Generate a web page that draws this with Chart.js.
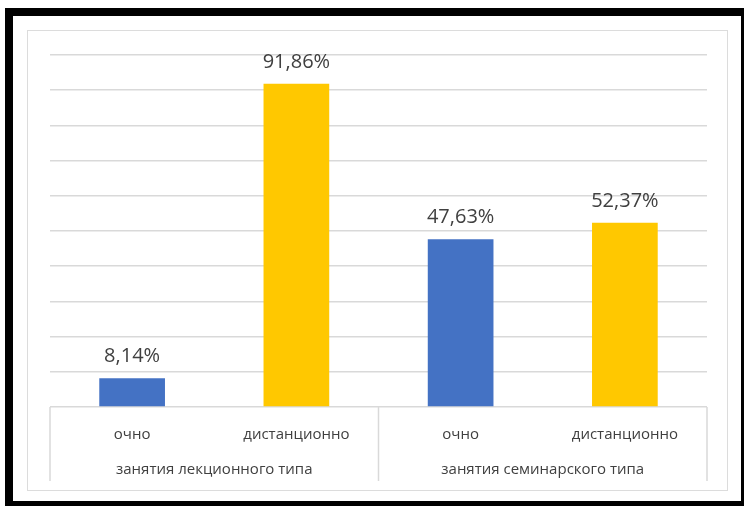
<!DOCTYPE html>
<html>
<head>
<meta charset="utf-8">
<script src="https://cdn.jsdelivr.net/npm/chart.js@4"></script>
<style>
  html, body { margin: 0; padding: 0; background: #fff; overflow: hidden; }
  #wrap { position: relative; width: 744px; height: 506px; }
  #frame { position: absolute; left: 5px; top: 8px; width: 728px; height: 485px; border: 8px solid #000; }
  #inner { position: absolute; left: 27px; top: 30px; width: 699px; height: 459px; border: 1px solid #dcdcdc; }
  canvas { position: absolute; left: 0; top: 0; }
</style>
</head>
<body>
<div id="wrap">
  <div id="frame"></div>
  <div id="inner"></div>
  <canvas id="chart" width="744" height="506"></canvas>
</div>
<script>
const categories = ['очно', 'дистанционно', 'очно', 'дистанционно'];
const groups = ['занятия лекционного типа', 'занятия семинарского типа'];
const values = [8.14, 91.86, 47.63, 52.37];
const barColors = ['#4472c4', '#ffc800', '#4472c4', '#ffc800'];

const textColor = '#404040';
const lineColor = '#d9d9d9';
const fontFamily = '"Open Sans", "Noto Sans", sans-serif';

// value labels above the bars and the two-level category axis
const labelsPlugin = {
  id: 'labelsPlugin',
  afterDatasetsDraw(chart) {
    const { ctx, chartArea } = chart;
    const x = chart.scales.x;
    const meta = chart.getDatasetMeta(0);

    ctx.save();
    ctx.fillStyle = textColor;
    ctx.textAlign = 'center';
    ctx.textBaseline = 'alphabetic';
    ctx.font = '20px ' + fontFamily;
    meta.data.forEach((bar, i) => {
      const txt = values[i].toFixed(2).replace('.', ',') + '%';
      ctx.fillText(txt, bar.x, bar.y - 16);
    });

    // separators of the grouped axis
    ctx.strokeStyle = lineColor;
    ctx.lineWidth = 1.5;
    const bottom = chartArea.bottom;
    const seps = [chartArea.left, x.getPixelForValue(1.5), chartArea.right];
    seps.forEach((px) => {
      ctx.beginPath();
      ctx.moveTo(px, bottom);
      ctx.lineTo(px, bottom + 74);
      ctx.stroke();
    });

    ctx.textBaseline = 'middle';
    ctx.font = '15px ' + fontFamily;
    categories.forEach((c, i) => {
      ctx.fillText(c, x.getPixelForValue(i), bottom + 28);
    });
    groups.forEach((g, i) => {
      const cx = (x.getPixelForValue(i * 2) + x.getPixelForValue(i * 2 + 1)) / 2;
      ctx.fillText(g, cx, bottom + 63);
    });
    ctx.restore();
  },
};

new Chart(document.getElementById('chart'), {
  type: 'bar',
  data: {
    labels: categories,
    datasets: [{
      data: values,
      backgroundColor: barColors,
      borderWidth: 0,
      categoryPercentage: 1,
      barPercentage: 0.4,
    }],
  },
  options: {
    responsive: false,
    animation: false,
    layout: {
      padding: { left: 50, right: 37, top: 55, bottom: 99 },
    },
    plugins: {
      legend: { display: false },
      tooltip: { enabled: false },
    },
    scales: {
      x: {
        display: false,
      },
      y: {
        min: 0,
        max: 100,
        ticks: { display: false, stepSize: 10 },
        grid: { color: lineColor, lineWidth: 1.5, drawTicks: false },
        border: { display: false },
      },
    },
  },
  plugins: [labelsPlugin],
});
</script>
</body>
</html>
